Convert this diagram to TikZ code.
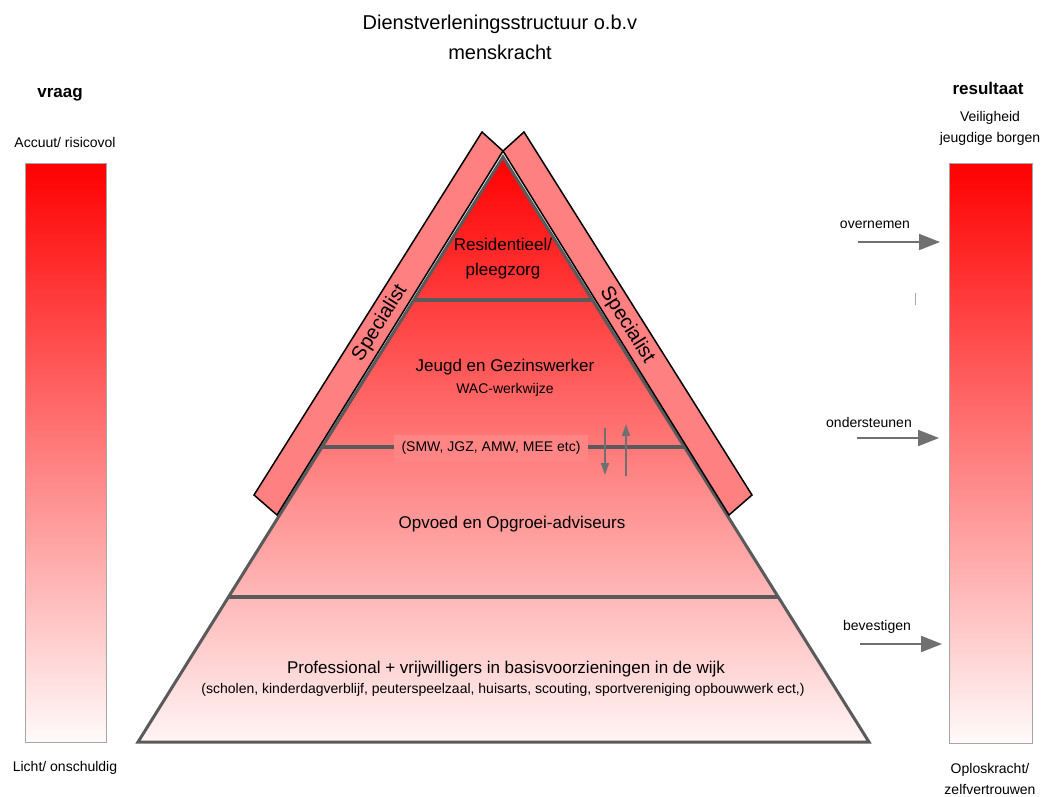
\documentclass[tikz,border=0pt]{standalone}
\usepackage{fontspec}
\setmainfont{Liberation Sans}
\usetikzlibrary{arrows.meta,calc}
\definecolor{barpink}{RGB}{255,128,128}
\definecolor{linegray}{RGB}{90,90,90}
\definecolor{arrowgray}{RGB}{112,112,112}
\tikzset{
    layertext/.style={align=center, font=\fontsize{17}{25}\selectfont},
    smalltext/.style={align=center, font=\fontsize{14}{21}\selectfont},
    layerline/.style={draw=linegray, line width=3.5pt},
    flowarrow/.style={draw=arrowgray, line width=2pt, -{Triangle[length=21pt,width=16pt]}},
    updown/.style={draw=arrowgray, line width=1.5pt, -{Triangle[length=12pt,width=8pt]}},
    sidebar/.style={draw=black, line width=1.5pt, line join=miter, fill=barpink},
    meter/.style={draw=gray!70, line width=1pt, top color=red, bottom color=red!2},
}
\begin{document}
\begin{tikzpicture}[x=1pt,y=-1pt]
    \useasboundingbox (0,0) rectangle (1041,796);
    \node[align=center, font=\fontsize{20}{30}\selectfont] (title) at (500,37) {Dienstverleningsstructuur o.b.v\\menskracht};

    % pyramid
    \coordinate (top) at (503,157);
    \coordinate (bl) at (138,742);
    \coordinate (br) at (869,742);
    \shade[top color=red, bottom color=red!4] (top) -- (bl) -- (br) -- cycle;
    \draw[layerline] ($(top)!0.244!(bl)$) -- ($(top)!0.244!(br)$);
    \draw[layerline] ($(top)!0.496!(bl)$) -- ($(top)!0.496!(br)$);
    \draw[layerline] ($(top)!0.752!(bl)$) -- ($(top)!0.752!(br)$);
    \draw[draw=linegray, line width=3pt, line join=miter] (top) -- (bl) -- (br) -- cycle;

    % specialist bars
    \draw[sidebar] (482,132) -- (503,151) -- (277,515) -- (254,495) -- cycle;
    \draw[sidebar] (524,132) -- (503,151) -- (729,515) -- (752,495) -- cycle;
    \node[rotate=58, font=\fontsize{20}{20}\selectfont] (specl) at (380,323) {Specialist};
    \node[rotate=-58, font=\fontsize{20}{20}\selectfont] (specr) at (627,325) {Specialist};

    % layers
    \node[layertext] (resi) at (503,259) {Residentieel/\\pleegzorg};
    \node[layertext] (jeugd) at (505,367) {Jeugd en Gezinswerker};
    \node[smalltext] (wac) at (505,390) {WAC-werkwijze};
    \node[smalltext, fill=red!48, inner xsep=8pt, minimum height=27pt] (smw) at (491,448) {(SMW, JGZ, AMW, MEE etc)};
    \node[layertext] (opvoed) at (512,524) {Opvoed en Opgroei-adviseurs};
    \node[layertext] (basis) at (506,669) {Professional + vrijwilligers in basisvoorzieningen in de wijk};
    \node[smalltext] (basis2) at (503,690) {(scholen, kinderdagverblijf, peuterspeelzaal, huisarts, scouting, sportvereniging opbouwwerk ect,)};

    \coordinate (dn1) at (605,428);
    \coordinate (dn2) at (605,475);
    \coordinate (up1) at (626,476);
    \coordinate (up2) at (626,424);
    \draw[updown] (dn1) -- (dn2);
    \draw[updown] (up1) -- (up2);

    % left meter
    \shadedraw[meter] (25,163) rectangle (106,742);
    \node[font=\fontsize{17}{17}\selectfont\bfseries] (vraag) at (60,95) {vraag};
    \node[smalltext] (acuut) at (65,142) {Accuut/ risicovol};
    \node[smalltext] (licht) at (65,768) {Licht/ onschuldig};

    % right meter
    \shadedraw[meter] (949,163) rectangle (1032,743);
    \node[font=\fontsize{17}{17}\selectfont\bfseries] (result) at (988,88) {resultaat};
    \node[smalltext] (veilig) at (990,128) {Veiligheid\\jeugdige borgen};
    \node[smalltext] (oplos) at (990,779) {Oploskracht/\\zelfvertrouwen};

    % arrows to the meter
    \node[smalltext] (overnemen) at (875,225) {overnemen};
    \coordinate (o1) at (858,242);
    \coordinate (o2) at (940,242);
    \draw[flowarrow] (o1) -- (o2);
    \draw[arrowgray!60, line width=1pt] (915.5,293) -- (915.5,305);
    \node[smalltext] (onder) at (869,422) {ondersteunen};
    \coordinate (s1) at (857,438);
    \coordinate (s2) at (939,438);
    \draw[flowarrow] (s1) -- (s2);
    \node[smalltext] (bevest) at (877,627) {bevestigen};
    \coordinate (b1) at (860,644);
    \coordinate (b2) at (942,644);
    \draw[flowarrow] (b1) -- (b2);
\end{tikzpicture}
\end{document}
